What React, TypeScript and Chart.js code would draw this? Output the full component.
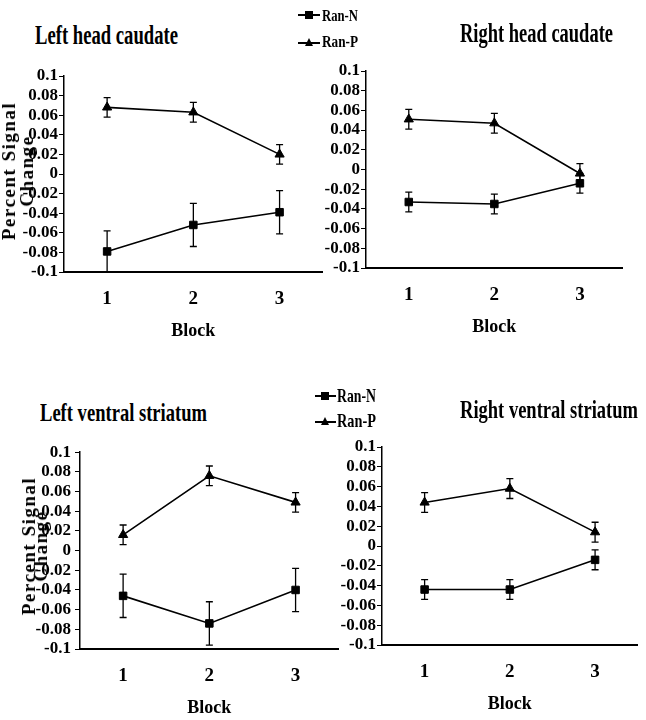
import React, { useEffect, useRef } from "react";
import { Chart, registerables } from "chart.js";

Chart.register(...registerables);

// ---------- data ----------
const blocks = ["1", "2", "3"];
const yTickValues = [0.1, 0.08, 0.06, 0.04, 0.02, 0, -0.02, -0.04, -0.06, -0.08, -0.1];
const yTickLabels = ["0.1", "0.08", "0.06", "0.04", "0.02", "0", "-0.02", "-0.04", "-0.06", "-0.08", "-0.1"];
const seriesNames = ["Ran-N", "Ran-P"];
const xAxisTitle = "Block";
const yAxisTitle = ["Percent Signal", "Change"];
const panelTitles = ["Left head caudate", "Right head caudate", "Left ventral striatum", "Right ventral striatum"];

const lhcRanN = [-0.079, -0.052, -0.039];
const lhcRanNErr = [0.021, 0.022, 0.022];
const lhcRanP = [0.068, 0.063, 0.02];
const lhcRanPErr = [0.01, 0.01, 0.01];

const rhcRanN = [-0.033, -0.035, -0.014];
const rhcRanNErr = [0.01, 0.01, 0.01];
const rhcRanP = [0.051, 0.047, -0.004];
const rhcRanPErr = [0.01, 0.01, 0.01];

const lvsRanN = [-0.046, -0.074, -0.04];
const lvsRanNErr = [0.022, 0.022, 0.022];
const lvsRanP = [0.016, 0.076, 0.049];
const lvsRanPErr = [0.01, 0.01, 0.01];

const rvsRanN = [-0.044, -0.044, -0.014];
const rvsRanNErr = [0.01, 0.01, 0.01];
const rvsRanP = [0.044, 0.058, 0.014];
const rvsRanPErr = [0.01, 0.01, 0.01];

// ---------- layout ----------
const FAMILY = '"Liberation Serif", "Times New Roman", serif';

const panels = [
  { title: panelTitles[0], n: lhcRanN, nErr: lhcRanNErr, p: lhcRanP, pErr: lhcRanPErr, area: { left: 64, right: 325, top: 76, bottom: 272 }, tickPad: 1 },
  { title: panelTitles[1], n: rhcRanN, nErr: rhcRanNErr, p: rhcRanP, pErr: rhcRanPErr, area: { left: 366, right: 625, top: 71, bottom: 268 }, tickPad: 1 },
  { title: panelTitles[2], n: lvsRanN, nErr: lvsRanNErr, p: lvsRanP, pErr: lvsRanPErr, area: { left: 80, right: 341, top: 452, bottom: 649 }, tickPad: 4 },
  { title: panelTitles[3], n: rvsRanN, nErr: rvsRanNErr, p: rvsRanP, pErr: rvsRanPErr, area: { left: 382, right: 640, top: 447, bottom: 645 }, tickPad: 1 },
];

const titlePos = [
  { x: 35, baseline: 45, width: 143, size: 27 },
  { x: 460, baseline: 43, width: 153, size: 27 },
  { x: 40, baseline: 422, width: 167, size: 26 },
  { x: 460, baseline: 419, width: 178, size: 26 },
];

const errorBarPlugin = {
  id: "errorBars",
  beforeDatasetsDraw(chart: any) {
    const ctx = chart.ctx;
    const y = chart.scales.y;
    chart.data.datasets.forEach((ds: any, i: number) => {
      const meta = chart.getDatasetMeta(i);
      const errs: number[] = ds.errorBars || [];
      meta.data.forEach((pt: any, j: number) => {
        const v = ds.data[j];
        const e = errs[j];
        if (e == null) return;
        const yt = y.getPixelForValue(v + e);
        const yb = y.getPixelForValue(v - e);
        ctx.save();
        ctx.strokeStyle = "#000";
        ctx.lineWidth = 1.3;
        ctx.beginPath();
        ctx.moveTo(pt.x, yt);
        ctx.lineTo(pt.x, yb);
        ctx.moveTo(pt.x - 3.5, yt);
        ctx.lineTo(pt.x + 3.5, yt);
        ctx.moveTo(pt.x - 3.5, yb);
        ctx.lineTo(pt.x + 3.5, yb);
        ctx.stroke();
        ctx.restore();
      });
    });
  },
};

const YW = 60;
const XH = 70;
const PT = 14;
const PR = 4;
const PB = 2;

function Panel({ cfg }: { cfg: any }) {
  const ref = useRef<HTMLCanvasElement>(null);
  const x0 = cfg.area.left - YW;
  const y0 = cfg.area.top - PT;
  const w = cfg.area.right - x0 + PR;
  const h = cfg.area.bottom + XH + PB - y0;
  useEffect(() => {
    const common = {
      borderColor: "#000",
      backgroundColor: "#000",
      pointBackgroundColor: "#000",
      pointBorderColor: "#000",
      borderWidth: 1.6,
      pointBorderWidth: 1,
      tension: 0,
      fill: false,
    };
    const chart = new Chart(ref.current as HTMLCanvasElement, {
      type: "line",
      data: {
        labels: blocks,
        datasets: [
          { ...common, label: seriesNames[0], data: cfg.n, errorBars: cfg.nErr, pointStyle: "rect", pointRadius: 5.3 } as any,
          { ...common, label: seriesNames[1], data: cfg.p, errorBars: cfg.pErr, pointStyle: "triangle", pointRadius: 5.3 } as any,
        ],
      },
      options: {
        responsive: false,
        animation: false,
        layout: { padding: { left: 0, top: PT, right: PR, bottom: PB } },
        plugins: { legend: { display: false }, tooltip: { enabled: false }, title: { display: false } },
        scales: {
          x: {
            type: "category",
            offset: true,
            grid: { display: false },
            border: { display: true, color: "#000", width: 2 },
            ticks: { color: "#000", font: { family: FAMILY, size: 19, weight: "bold" }, padding: 8, maxRotation: 0 },
            title: { display: true, text: xAxisTitle, color: "#000", font: { family: FAMILY, size: 18, weight: "bold" }, padding: 0 },
            afterFit: (s: any) => {
              s.height = XH;
            },
          },
          y: {
            min: -0.1,
            max: 0.1,
            grid: { display: true, drawOnChartArea: false, drawTicks: true, tickLength: 5, color: "#000", lineWidth: 1 },
            border: { display: true, color: "#000", width: 1.5 },
            afterBuildTicks: (s: any) => {
              s.ticks = yTickValues.map((v) => ({ value: v }));
            },
            ticks: {
              autoSkip: false,
              color: "#000",
              padding: cfg.tickPad,
              font: { family: FAMILY, size: 17, weight: "bold" },
              callback: (v: any) => {
                const k = yTickValues.findIndex((t) => Math.abs(t - Number(v)) < 1e-9);
                return k >= 0 ? yTickLabels[k] : "";
              },
            },
            afterFit: (s: any) => {
              s.width = YW;
            },
          },
        },
      } as any,
      plugins: [errorBarPlugin],
    });
    return () => chart.destroy();
  }, []);
  return <canvas ref={ref} width={w} height={h} style={{ position: "absolute", left: x0, top: y0 }} />;
}

let measureCtx: CanvasRenderingContext2D | null = null;
function measure(text: string, font: string) {
  if (!measureCtx) measureCtx = document.createElement("canvas").getContext("2d");
  measureCtx!.font = font;
  return measureCtx!.measureText(text).width;
}

function FitText({ text, x, baseline, width, size }: { text: string; x: number; baseline: number; width: number; size: number }) {
  const font = `bold ${size}px ${FAMILY}`;
  const natural = measure(text, font);
  const sx = natural > 0 ? width / natural : 1;
  const top = baseline - 0.8375 * size;
  return (
    <div
      style={{
        position: "absolute",
        left: x,
        top,
        font,
        lineHeight: `${size}px`,
        whiteSpace: "nowrap",
        color: "#000",
        transform: `scaleX(${sx})`,
        transformOrigin: "0 0",
      }}
    >
      {text}
    </div>
  );
}

function LegendMarker({ kind, cx, cy }: { kind: string; cx: number; cy: number }) {
  if (kind === "rect") {
    return <div style={{ position: "absolute", left: cx - 4, top: cy - 4, width: 8, height: 8, background: "#000" }} />;
  }
  return (
    <div
      style={{
        position: "absolute",
        left: cx - 4.5,
        top: cy - 5,
        width: 0,
        height: 0,
        borderLeft: "4.5px solid transparent",
        borderRight: "4.5px solid transparent",
        borderBottom: "8px solid #000",
      }}
    />
  );
}

function Legend({ lineX1, lineX2, markerX, rows, textX, textW, size }: any) {
  return (
    <>
      {rows.map((r: any, i: number) => (
        <React.Fragment key={i}>
          <div style={{ position: "absolute", left: lineX1, top: r.y - 1, width: lineX2 - lineX1, height: 2, background: "#000" }} />
          <LegendMarker kind={i === 0 ? "rect" : "tri"} cx={markerX} cy={r.y} />
          <FitText text={seriesNames[i]} x={textX} baseline={r.baseline} width={textW} size={size} />
        </React.Fragment>
      ))}
    </>
  );
}

function YTitle({ cx, cy, lh }: { cx: number; cy: number; lh: number }) {
  return (
    <div
      style={{
        position: "absolute",
        left: cx,
        top: cy,
        transform: "translate(-50%, -50%) rotate(-90deg)",
        fontFamily: FAMILY,
        fontWeight: "bold",
        fontSize: "19px",
        lineHeight: `${lh}px`,
        letterSpacing: "1.5px",
        textAlign: "center",
        whiteSpace: "nowrap",
        color: "#000",
      }}
    >
      <div style={{ height: lh }}>{yAxisTitle[0]}</div>
      <div style={{ height: lh }}>{yAxisTitle[1]}</div>
    </div>
  );
}

export default function App() {
  return (
    <div style={{ position: "absolute", left: 0, top: 0, width: 646, height: 720, background: "#fff", overflow: "hidden" }}>
      {panels.map((p, i) => (
        <Panel key={i} cfg={p} />
      ))}
      {panels.map((p, i) => (
        <FitText key={"t" + i} text={p.title} x={titlePos[i].x} baseline={titlePos[i].baseline} width={titlePos[i].width} size={titlePos[i].size} />
      ))}
      <YTitle cx={18} cy={171} lh={18} />
      <YTitle cx={35} cy={546} lh={12} />
      <Legend lineX1={298} lineX2={320} markerX={309} textX={322} textW={36} size={17} rows={[{ y: 15, baseline: 21 }, { y: 43, baseline: 47 }]} />
      <Legend lineX1={315} lineX2={336} markerX={325} textX={337} textW={39} size={19} rows={[{ y: 396, baseline: 402 }, { y: 422, baseline: 427 }]} />
    </div>
  );
}
